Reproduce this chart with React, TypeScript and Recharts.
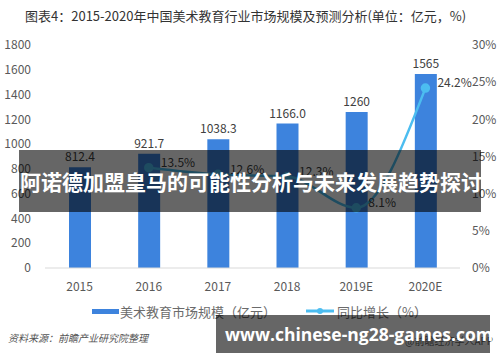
import { ComposedChart, Bar, Line, XAxis, YAxis, Legend, LabelList } from "recharts";

const years = ["2015", "2016", "2017", "2018", "2019E", "2020E"];
const marketSize = [812.4, 921.7, 1038.3, 1166.0, 1260, 1565];
const sizeLabels = ["812.4", "921.7", "1038.3", "1166.0", "1260", "1565"];
const growth = [null, 13.5, 12.6, 12.3, 8.1, 24.2];
const leftTicks = [0, 200, 400, 600, 800, 1000, 1200, 1400, 1600, 1800];
const rightTicks = [0, 5, 10, 15, 20, 25, 30];

const data = years.map((year, i) => ({
    year,
    size: marketSize[i],
    sizeLabel: sizeLabels[i],
    growth: growth[i],
}));

const FONT = '"Noto Sans CJK SC", "Noto Sans", sans-serif';
const BAR_COLOR = "#3d83dd";
const LINE_COLOR = "#4cbdf0";

const GrowthLabel = (props: any) => {
    const { x, y, value } = props;
    if (value == null) return null;
    return (
        <text x={x + 12} y={y - 4} fill="#404040" fontSize={12} fontFamily={FONT} dominantBaseline="middle">
            {value.toFixed(1)}%
        </text>
    );
};

const LegendContent = () => (
    <div style={{ height: 22, display: "flex", alignItems: "center", fontFamily: FONT, fontSize: 13, color: "#6b6b6b" }}>
        <div style={{ marginLeft: 92, width: 27, height: 5, background: BAR_COLOR }} />
        <span style={{ marginLeft: 1 }}>美术教育市场规模（亿元）</span>
        <svg width={30} height={10} style={{ marginLeft: 30 }}>
            <line x1={0} y1={5} x2={28} y2={5} stroke={LINE_COLOR} strokeWidth={3} />
            <circle cx={14} cy={5} r={3} fill={LINE_COLOR} />
        </svg>
        <span style={{ marginLeft: 1 }}>同比增长（%）</span>
    </div>
);

const App = () => {
    return (
        <div style={{ position: "absolute", left: 0, top: 0, width: 500, height: 362, background: "#fff", overflow: "hidden" }}>
            <div style={{ position: "absolute", left: 25, top: 6, fontFamily: FONT, fontSize: 13, color: "#333", whiteSpace: "nowrap" }}>
                图表4：2015-2020年中国美术教育行业市场规模及预测分析(单位：亿元，%)
            </div>
            <ComposedChart width={500} height={362} data={data} margin={{ top: 45, right: 0, bottom: 40, left: 0 }}>
                <XAxis
                    dataKey="year"
                    height={32}
                    tickLine={false}
                    axisLine={{ stroke: "#d9d9d9" }}
                    tick={{ fill: "#595959", fontSize: 12, fontFamily: FONT }}
                    tickMargin={8}
                />
                <YAxis
                    yAxisId="left"
                    width={45}
                    domain={[0, 1800]}
                    ticks={leftTicks}
                    tickLine={false}
                    axisLine={false}
                    tick={{ fill: "#595959", fontSize: 12, fontFamily: FONT }}
                    tickMargin={8}
                />
                <YAxis
                    yAxisId="right"
                    orientation="right"
                    width={40}
                    domain={[0, 30]}
                    ticks={rightTicks}
                    tickFormatter={(v) => `${v}%`}
                    tickLine={false}
                    axisLine={false}
                    tick={{ fill: "#595959", fontSize: 12, fontFamily: FONT }}
                    tickMargin={6}
                />
                <Legend verticalAlign="bottom" content={<LegendContent />} />
                <Bar yAxisId="left" dataKey="size" fill={BAR_COLOR} barSize={22} isAnimationActive={false}>
                    <LabelList dataKey="sizeLabel" position="top" offset={6} fill="#404040" fontSize={12} fontFamily={FONT} />
                </Bar>
                <Line
                    yAxisId="right"
                    dataKey="growth"
                    type="monotone"
                    stroke={LINE_COLOR}
                    strokeWidth={2.5}
                    dot={{ r: 3.5, fill: LINE_COLOR, stroke: LINE_COLOR }}
                    connectNulls={false}
                    isAnimationActive={false}
                >
                    <LabelList dataKey="growth" content={<GrowthLabel />} />
                </Line>
            </ComposedChart>
            <div style={{ position: "absolute", left: 8, top: 330, fontFamily: FONT, fontSize: 10, fontStyle: "italic", color: "#555" }}>
                资料来源：前瞻产业研究院整理
            </div>
            <div style={{ position: "absolute", left: 405, top: 333, fontFamily: FONT, fontSize: 10, color: "#666" }}>
                @前瞻经济学人APP
            </div>
            <div
                style={{
                    position: "absolute",
                    left: 19,
                    top: 150,
                    width: 462,
                    height: 62,
                    background: "rgba(0,0,0,0.6)",
                    display: "flex",
                    alignItems: "center",
                    fontFamily: FONT,
                    fontWeight: 700,
                    fontSize: 21,
                    color: "#fff",
                    whiteSpace: "nowrap",
                }}
            >
                <span style={{ marginLeft: 1 }}>阿诺德加盟皇马的可能性分析与未来发展趋势探讨</span>
            </div>
            <div
                style={{
                    position: "absolute",
                    left: 216,
                    top: 315,
                    width: 274,
                    height: 38,
                    background: "rgba(0,0,0,0.6)",
                    display: "flex",
                    alignItems: "center",
                    fontFamily: '"Open Sans", sans-serif',
                    fontWeight: 700,
                    fontSize: 17.5,
                    color: "#fff",
                    whiteSpace: "nowrap",
                }}
            >
                <span style={{ marginLeft: 9 }}>www.chinese-ng28-games.com</span>
            </div>
        </div>
    );
};

export default App;
